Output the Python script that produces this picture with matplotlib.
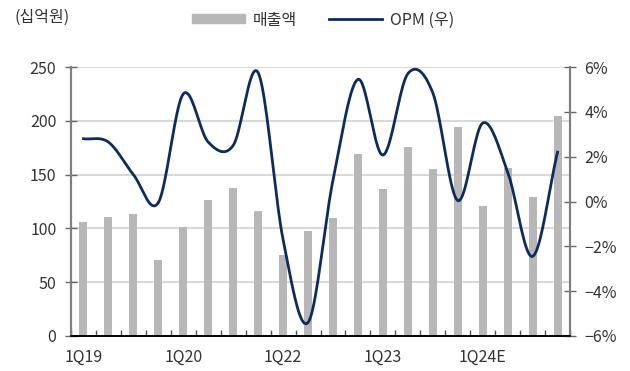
import numpy as np
import matplotlib
matplotlib.use('Agg')
import matplotlib.pyplot as plt
from matplotlib.patches import Patch
from matplotlib.lines import Line2D

plt.rcParams['font.family'] = ['Noto Sans CJK KR', 'DejaVu Sans']

# -----------------------------------------------------------------------------
# data

quarters = ['1Q19', '2Q19', '3Q19', '4Q19',
            '1Q20', '2Q20', '3Q20', '4Q20',
            '1Q22', '2Q22', '3Q22', '4Q22',
            '1Q23', '2Q23', '3Q23', '4Q23',
            '1Q24E', '2Q24E', '3Q24E', '4Q24E']
sales = [106, 111, 113, 71, 101, 126, 138, 116, 75, 98,
         110, 169, 137, 176, 155, 194, 121, 156, 129, 204]   # 십억원
opm = [2.8, 2.65, 1.2, -0.05, 4.8, 2.65, 2.5, 5.75, -1.7, -5.4,
       0.95, 5.45, 2.07, 5.7, 4.85, 0.04, 3.5, 1.33, -2.45, 2.2]  # %
shown_labels = ['1Q19', '1Q20', '1Q22', '1Q23', '1Q24E']

bar_color = '#b7b7b7'
line_color = '#0c2c5c'
grid_color = '#d9d9d9'
text_color = '#333333'


def smooth(x, y, n=20):
    # catmull-rom curve through the points, like excel's smoothed line
    x = np.asarray(x, float)
    y = np.asarray(y, float)
    px = np.concatenate([[2 * x[0] - x[1]], x, [2 * x[-1] - x[-2]]])
    py = np.concatenate([[2 * y[0] - y[1]], y, [2 * y[-1] - y[-2]]])
    xs, ys = [], []
    t = np.linspace(0, 1, n, endpoint=False)
    for i in range(1, len(px) - 2):
        for p, out in ((px, xs), (py, ys)):
            p0, p1, p2, p3 = p[i - 1], p[i], p[i + 1], p[i + 2]
            out.extend(0.5 * (2 * p1 + (-p0 + p2) * t
                              + (2 * p0 - 5 * p1 + 4 * p2 - p3) * t ** 2
                              + (-p0 + 3 * p1 - 3 * p2 + p3) * t ** 3))
    xs.append(x[-1])
    ys.append(y[-1])
    return np.array(xs), np.array(ys)


# -----------------------------------------------------------------------------
# plot

fig = plt.figure(figsize=(6.3, 3.71), dpi=100)
ax = fig.add_axes([71 / 630, 35 / 371, 499 / 630, 269 / 371])
ax2 = ax.twinx()

x = np.arange(len(quarters))
ax.bar(x, sales, width=0.32, color=bar_color, zorder=2)
ax.set_xlim(-0.5, len(quarters) - 0.5)
ax.set_ylim(0, 250)
ax.set_yticks(np.arange(0, 251, 50))
ax.grid(axis='y', color=grid_color, linewidth=1.5, zorder=0)
ax.set_axisbelow(True)

ax.set_xticks([quarters.index(q) for q in shown_labels])
ax.set_xticklabels(shown_labels)
ax.set_xticks(np.arange(-0.5, len(quarters), 1), minor=True)
ax.tick_params(axis='x', which='major', length=0, pad=9,
               labelsize=11.5, labelcolor=text_color)
ax.tick_params(axis='x', which='minor', direction='in', length=4,
               width=1, color='#555555')
ax.tick_params(axis='y', direction='inout', length=9, width=1,
               color='#666666', labelsize=11.5, labelcolor=text_color, pad=6)

sx, sy = smooth(x, opm)
ax2.plot(sx, sy, color=line_color, linewidth=2, zorder=3, clip_on=False)
ax2.set_ylim(-6, 6)
ax2.set_yticks(np.arange(-6, 7, 2))
ax2.set_yticklabels([(f'\u2212{-v}%' if v < 0 else f'{v}%')
                     for v in range(-6, 7, 2)])
ax2.tick_params(axis='y', direction='inout', length=9, width=1,
                color='#666666', labelsize=11.5, labelcolor=text_color, pad=6)

for a in (ax, ax2):
    a.spines['top'].set_visible(False)
    a.spines['left'].set_color('#7f7f7f')
    a.spines['right'].set_color('#7f7f7f')
    a.spines['bottom'].set_color('#000000')
    a.spines['left'].set_linewidth(1.5)
    a.spines['right'].set_linewidth(1.5)
    a.spines['bottom'].set_linewidth(1.2)

fig.text(14 / 630, 1 - 17 / 371, '(십억원)', fontsize=11.5, color=text_color,
         va='center', ha='left')

handles = [Patch(color=bar_color, label='매출액'),
           Line2D([], [], color=line_color, linewidth=2, label='OPM (우)')]
fig.legend(handles=handles, loc='center', bbox_to_anchor=(0.513, 1 - 20 / 371),
           ncol=2, frameon=False, fontsize=11.5, handlelength=3.3,
           handleheight=0.5, columnspacing=2.0, handletextpad=0.5,
           labelcolor=text_color)

fig.savefig('out.png', dpi=100)
